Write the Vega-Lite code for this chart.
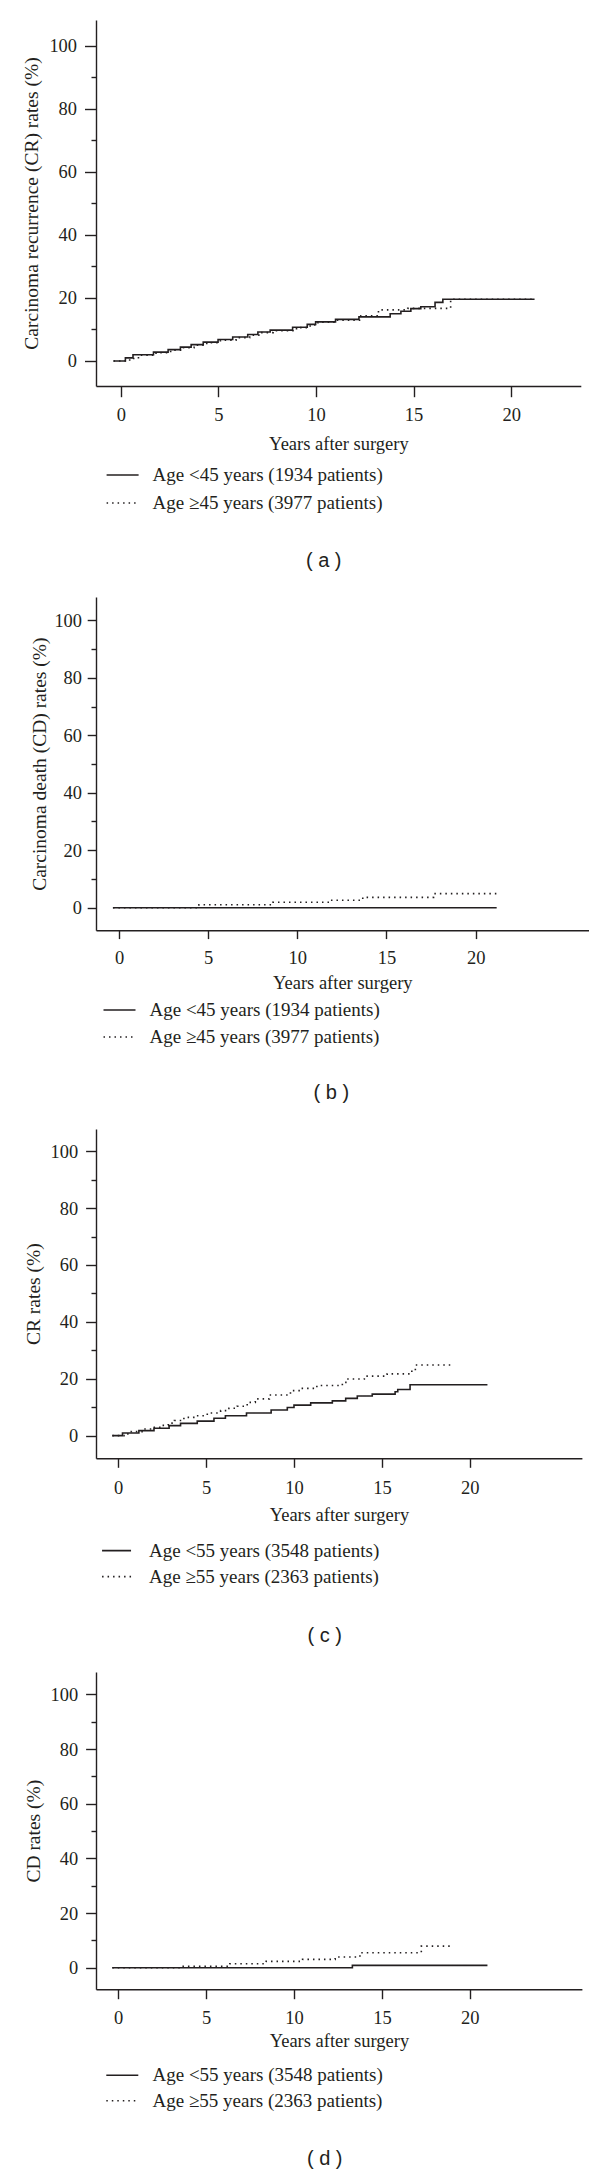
{
  "$schema": "https://vega.github.io/schema/vega-lite/v6.json",
  "padding": {"left": 21, "top": 20, "right": 0, "bottom": 0},
  "background": "white",
  "config": {
    "view": {"stroke": null},
    "font": "Liberation Serif",
    "style": {"guide-title": {"fontWeight": "normal"}, "guide-label": {"fontWeight": "normal"}},
    "axis": {"domainColor": "#231f20", "domainWidth": 1.4, "tickColor": "#231f20", "tickWidth": 1.4, "labelColor": "#231f20", "titleColor": "#231f20", "labelFont": "Liberation Serif", "titleFont": "Liberation Serif", "labelFontSize": 18.5, "titleFontSize": 18.5, "titleFontWeight": "normal", "labelFontWeight": "normal", "grid": false, "labelFlush": false, "labelOverlap": false},
    "legend": {"orient": "none", "title": null, "direction": "vertical", "symbolType": "M-2,0H2", "symbolSize": 256, "symbolStrokeWidth": 1.6, "symbolStrokeColor": "#231f20", "symbolFillColor": "transparent", "labelFont": "Liberation Serif", "labelFontSize": 19, "labelColor": "#231f20", "padding": 0, "labelLimit": 500},
    "title": {"font": "Liberation Sans", "fontSize": 20, "fontWeight": "normal", "color": "#231f20"}
  },
  "datasets": {
    "a": [
      {"t": -0.38, "r": 0, "g": "Age <45 years (1934 patients)"},
      {"t": 0.23, "r": 1.0, "g": "Age <45 years (1934 patients)"},
      {"t": 0.62, "r": 2.0, "g": "Age <45 years (1934 patients)"},
      {"t": 1.67, "r": 2.8, "g": "Age <45 years (1934 patients)"},
      {"t": 2.42, "r": 3.6, "g": "Age <45 years (1934 patients)"},
      {"t": 3.05, "r": 4.4, "g": "Age <45 years (1934 patients)"},
      {"t": 3.6, "r": 5.2, "g": "Age <45 years (1934 patients)"},
      {"t": 4.22, "r": 6.0, "g": "Age <45 years (1934 patients)"},
      {"t": 4.98, "r": 6.8, "g": "Age <45 years (1934 patients)"},
      {"t": 5.73, "r": 7.6, "g": "Age <45 years (1934 patients)"},
      {"t": 6.5, "r": 8.4, "g": "Age <45 years (1934 patients)"},
      {"t": 7.02, "r": 9.2, "g": "Age <45 years (1934 patients)"},
      {"t": 7.65, "r": 9.8, "g": "Age <45 years (1934 patients)"},
      {"t": 8.8, "r": 10.7, "g": "Age <45 years (1934 patients)"},
      {"t": 9.55, "r": 11.6, "g": "Age <45 years (1934 patients)"},
      {"t": 9.98, "r": 12.4, "g": "Age <45 years (1934 patients)"},
      {"t": 11.0, "r": 13.2, "g": "Age <45 years (1934 patients)"},
      {"t": 12.2, "r": 14.0, "g": "Age <45 years (1934 patients)"},
      {"t": 13.8, "r": 15.0, "g": "Age <45 years (1934 patients)"},
      {"t": 14.35, "r": 15.8, "g": "Age <45 years (1934 patients)"},
      {"t": 14.86, "r": 16.6, "g": "Age <45 years (1934 patients)"},
      {"t": 15.37, "r": 17.2, "g": "Age <45 years (1934 patients)"},
      {"t": 16.1, "r": 18.6, "g": "Age <45 years (1934 patients)"},
      {"t": 16.5, "r": 19.6, "g": "Age <45 years (1934 patients)"},
      {"t": 21.2, "r": 19.6, "g": "Age <45 years (1934 patients)"},
      {"t": -0.38, "r": 0, "g": "Age ≥45 years (3977 patients)"},
      {"t": 0.45, "r": 0.8, "g": "Age ≥45 years (3977 patients)"},
      {"t": 0.9, "r": 1.8, "g": "Age ≥45 years (3977 patients)"},
      {"t": 1.8, "r": 2.6, "g": "Age ≥45 years (3977 patients)"},
      {"t": 2.55, "r": 3.4, "g": "Age ≥45 years (3977 patients)"},
      {"t": 3.2, "r": 4.2, "g": "Age ≥45 years (3977 patients)"},
      {"t": 3.75, "r": 5.0, "g": "Age ≥45 years (3977 patients)"},
      {"t": 4.4, "r": 5.8, "g": "Age ≥45 years (3977 patients)"},
      {"t": 5.1, "r": 6.6, "g": "Age ≥45 years (3977 patients)"},
      {"t": 5.9, "r": 7.4, "g": "Age ≥45 years (3977 patients)"},
      {"t": 6.6, "r": 8.2, "g": "Age ≥45 years (3977 patients)"},
      {"t": 7.15, "r": 9.0, "g": "Age ≥45 years (3977 patients)"},
      {"t": 7.8, "r": 9.6, "g": "Age ≥45 years (3977 patients)"},
      {"t": 9.0, "r": 10.6, "g": "Age ≥45 years (3977 patients)"},
      {"t": 9.7, "r": 11.4, "g": "Age ≥45 years (3977 patients)"},
      {"t": 10.1, "r": 12.3, "g": "Age ≥45 years (3977 patients)"},
      {"t": 11.0, "r": 12.9, "g": "Age ≥45 years (3977 patients)"},
      {"t": 12.3, "r": 14.3, "g": "Age ≥45 years (3977 patients)"},
      {"t": 13.2, "r": 16.2, "g": "Age ≥45 years (3977 patients)"},
      {"t": 14.7, "r": 16.7, "g": "Age ≥45 years (3977 patients)"},
      {"t": 16.9, "r": 19.6, "g": "Age ≥45 years (3977 patients)"},
      {"t": 21.2, "r": 19.6, "g": "Age ≥45 years (3977 patients)"}
    ],
    "b": [
      {"t": -0.34, "r": 0, "g": "Age <45 years (1934 patients)"},
      {"t": 21.18, "r": 0, "g": "Age <45 years (1934 patients)"},
      {"t": -0.34, "r": 0, "g": "Age ≥45 years (3977 patients)"},
      {"t": 4.48, "r": 1.0, "g": "Age ≥45 years (3977 patients)"},
      {"t": 8.63, "r": 1.9, "g": "Age ≥45 years (3977 patients)"},
      {"t": 11.8, "r": 2.6, "g": "Age ≥45 years (3977 patients)"},
      {"t": 13.67, "r": 3.6, "g": "Age ≥45 years (3977 patients)"},
      {"t": 17.64, "r": 4.9, "g": "Age ≥45 years (3977 patients)"},
      {"t": 21.18, "r": 4.9, "g": "Age ≥45 years (3977 patients)"}
    ],
    "c": [
      {"t": -0.33, "r": 0, "g": "Age <55 years (3548 patients)"},
      {"t": 0.25, "r": 0.9, "g": "Age <55 years (3548 patients)"},
      {"t": 1.18, "r": 1.75, "g": "Age <55 years (3548 patients)"},
      {"t": 2.04, "r": 2.6, "g": "Age <55 years (3548 patients)"},
      {"t": 2.9, "r": 3.5, "g": "Age <55 years (3548 patients)"},
      {"t": 3.55, "r": 4.3, "g": "Age <55 years (3548 patients)"},
      {"t": 4.5, "r": 5.1, "g": "Age <55 years (3548 patients)"},
      {"t": 5.45, "r": 6.1, "g": "Age <55 years (3548 patients)"},
      {"t": 6.1, "r": 7.0, "g": "Age <55 years (3548 patients)"},
      {"t": 7.3, "r": 7.95, "g": "Age <55 years (3548 patients)"},
      {"t": 8.7, "r": 9.0, "g": "Age <55 years (3548 patients)"},
      {"t": 9.62, "r": 9.9, "g": "Age <55 years (3548 patients)"},
      {"t": 10.0, "r": 10.7, "g": "Age <55 years (3548 patients)"},
      {"t": 10.95, "r": 11.5, "g": "Age <55 years (3548 patients)"},
      {"t": 12.18, "r": 12.2, "g": "Age <55 years (3548 patients)"},
      {"t": 12.94, "r": 13.1, "g": "Age <55 years (3548 patients)"},
      {"t": 13.6, "r": 13.9, "g": "Age <55 years (3548 patients)"},
      {"t": 14.45, "r": 14.6, "g": "Age <55 years (3548 patients)"},
      {"t": 15.75, "r": 15.4, "g": "Age <55 years (3548 patients)"},
      {"t": 15.9, "r": 16.2, "g": "Age <55 years (3548 patients)"},
      {"t": 16.6, "r": 17.9, "g": "Age <55 years (3548 patients)"},
      {"t": 21.0, "r": 17.9, "g": "Age <55 years (3548 patients)"},
      {"t": -0.33, "r": 0, "g": "Age ≥55 years (2363 patients)"},
      {"t": 0.45, "r": 0.6, "g": "Age ≥55 years (2363 patients)"},
      {"t": 0.75, "r": 1.4, "g": "Age ≥55 years (2363 patients)"},
      {"t": 1.45, "r": 2.3, "g": "Age ≥55 years (2363 patients)"},
      {"t": 1.95, "r": 2.9, "g": "Age ≥55 years (2363 patients)"},
      {"t": 2.5, "r": 3.6, "g": "Age ≥55 years (2363 patients)"},
      {"t": 2.85, "r": 4.4, "g": "Age ≥55 years (2363 patients)"},
      {"t": 3.2, "r": 5.3, "g": "Age ≥55 years (2363 patients)"},
      {"t": 3.74, "r": 6.4, "g": "Age ≥55 years (2363 patients)"},
      {"t": 4.3, "r": 7.0, "g": "Age ≥55 years (2363 patients)"},
      {"t": 5.07, "r": 7.95, "g": "Age ≥55 years (2363 patients)"},
      {"t": 5.83, "r": 8.8, "g": "Age ≥55 years (2363 patients)"},
      {"t": 6.3, "r": 9.6, "g": "Age ≥55 years (2363 patients)"},
      {"t": 6.77, "r": 10.3, "g": "Age ≥55 years (2363 patients)"},
      {"t": 7.34, "r": 11.7, "g": "Age ≥55 years (2363 patients)"},
      {"t": 7.8, "r": 12.9, "g": "Age ≥55 years (2363 patients)"},
      {"t": 8.6, "r": 14.3, "g": "Age ≥55 years (2363 patients)"},
      {"t": 9.8, "r": 15.8, "g": "Age ≥55 years (2363 patients)"},
      {"t": 10.4, "r": 16.6, "g": "Age ≥55 years (2363 patients)"},
      {"t": 11.3, "r": 17.6, "g": "Age ≥55 years (2363 patients)"},
      {"t": 12.75, "r": 18.7, "g": "Age ≥55 years (2363 patients)"},
      {"t": 13.0, "r": 19.9, "g": "Age ≥55 years (2363 patients)"},
      {"t": 14.0, "r": 20.9, "g": "Age ≥55 years (2363 patients)"},
      {"t": 15.3, "r": 21.7, "g": "Age ≥55 years (2363 patients)"},
      {"t": 16.7, "r": 22.9, "g": "Age ≥55 years (2363 patients)"},
      {"t": 16.9, "r": 24.8, "g": "Age ≥55 years (2363 patients)"},
      {"t": 19.1, "r": 24.8, "g": "Age ≥55 years (2363 patients)"}
    ],
    "d": [
      {"t": -0.33, "r": 0, "g": "Age <55 years (3548 patients)"},
      {"t": 13.32, "r": 0.85, "g": "Age <55 years (3548 patients)"},
      {"t": 21.0, "r": 0.85, "g": "Age <55 years (3548 patients)"},
      {"t": -0.33, "r": 0, "g": "Age ≥55 years (2363 patients)"},
      {"t": 3.63, "r": 0.5, "g": "Age ≥55 years (2363 patients)"},
      {"t": 6.35, "r": 1.46, "g": "Age ≥55 years (2363 patients)"},
      {"t": 8.42, "r": 2.3, "g": "Age ≥55 years (2363 patients)"},
      {"t": 10.49, "r": 3.05, "g": "Age ≥55 years (2363 patients)"},
      {"t": 12.34, "r": 3.9, "g": "Age ≥55 years (2363 patients)"},
      {"t": 13.75, "r": 5.5, "g": "Age ≥55 years (2363 patients)"},
      {"t": 17.24, "r": 7.9, "g": "Age ≥55 years (2363 patients)"},
      {"t": 18.98, "r": 7.9, "g": "Age ≥55 years (2363 patients)"}
    ]
  },
  "spacing": 26,
  "vconcat": [
    {
      "width": 484.8, "height": 366,
      "data": {"name": "a"},
      "title": {"text": "( a )", "orient": "bottom", "anchor": "middle", "frame": "group", "dx": -14.7, "offset": 47.5, "baseline": "middle"},
      "layer": [
        {
          "mark": {"type": "line", "interpolate": "step-after", "color": "#231f20", "strokeWidth": 1.6},
          "encoding": {
            "x": {"field": "t", "type": "quantitative", "scale": {"domain": [-1.276, 23.57], "nice": false, "zero": false}, "axis": {"values": [0, 5, 10, 15, 20], "tickSize": 10.7, "labelPadding": 9.1, "title": "Years after surgery", "titleFontWeight": "normal", "titlePadding": 10.5}},
            "y": {"field": "r", "type": "quantitative", "scale": {"domain": [-7.93, 108.15], "nice": false, "zero": false}, "axis": {"values": [0, 20, 40, 60, 80, 100], "tickSize": 11.5, "labelPadding": 8, "labelFontSize": 18.4, "title": "Carcinoma recurrence (CR) rates (%)", "titleFontWeight": "normal", "titleFontSize": 19.5, "titlePadding": 7}},
            "strokeDash": {"field": "g", "type": "nominal", "scale": {"domain": ["Age <45 years (1934 patients)", "Age ≥45 years (3977 patients)"], "range": [[1, 0], [1.5, 4]]}, "legend": {"legendX": 17.1, "legendY": 445.5, "labelOffset": 20.5, "rowPadding": 8}}
          }
        },
        {
          "mark": {"type": "point", "opacity": 0},
          "encoding": {
            "y": {"field": "r", "type": "quantitative", "scale": {"domain": [-7.93, 108.15], "nice": false, "zero": false}, "axis": {"orient": "left", "values": [10, 30, 50, 70, 90], "tickSize": 5, "labels": false, "domain": false, "title": null}}
          }
        }
      ],
      "resolve": {"axis": {"y": "independent"}}
    },
    {
      "width": 492.5, "height": 333.3,
      "data": {"name": "b"},
      "title": {"text": "( b )", "orient": "bottom", "anchor": "middle", "frame": "group", "dx": -10.9, "offset": 45.2, "baseline": "middle"},
      "layer": [
        {
          "mark": {"type": "line", "interpolate": "step-after", "color": "#231f20", "strokeWidth": 1.6},
          "encoding": {
            "x": {"field": "t", "type": "quantitative", "scale": {"domain": [-1.29, 26.33], "nice": false, "zero": false}, "axis": {"values": [0, 5, 10, 15, 20], "tickSize": 8.3, "labelPadding": 9.9, "title": "Years after surgery", "titleFontWeight": "normal", "titlePadding": 6.5}},
            "y": {"field": "r", "type": "quantitative", "scale": {"domain": [-7.87, 108.1], "nice": false, "zero": false}, "axis": {"values": [0, 20, 40, 60, 80, 100], "tickSize": 8.8, "labelPadding": 5.7, "labelFontSize": 18.4, "title": "Carcinoma death (CD) rates (%)", "titleFontWeight": "normal", "titleFontSize": 19.5, "titlePadding": 4.3}},
            "strokeDash": {"field": "g", "type": "nominal", "scale": {"domain": ["Age <45 years (1934 patients)", "Age ≥45 years (3977 patients)"], "range": [[1, 0], [1.5, 4]]}, "legend": {"legendX": 14, "legendY": 403.5, "labelOffset": 20.5, "rowPadding": 7}}
          }
        },
        {
          "mark": {"type": "point", "opacity": 0},
          "encoding": {
            "y": {"field": "r", "type": "quantitative", "scale": {"domain": [-7.87, 108.1], "nice": false, "zero": false}, "axis": {"orient": "left", "values": [10, 30, 50, 70, 90], "tickSize": 5, "labels": false, "domain": false, "title": null}}
          }
        }
      ],
      "resolve": {"axis": {"y": "independent"}}
    },
    {
      "width": 485.9, "height": 329.3,
      "data": {"name": "c"},
      "title": {"text": "( c )", "orient": "bottom", "anchor": "middle", "frame": "group", "dx": -14.2, "offset": 48.9, "baseline": "middle"},
      "layer": [
        {
          "mark": {"type": "line", "interpolate": "step-after", "color": "#231f20", "strokeWidth": 1.6},
          "encoding": {
            "x": {"field": "t", "type": "quantitative", "scale": {"domain": [-1.257, 26.37], "nice": false, "zero": false}, "axis": {"values": [0, 5, 10, 15, 20], "tickSize": 9, "labelPadding": 11.5, "title": "Years after surgery", "titleFontWeight": "normal", "titlePadding": 8.2}},
            "y": {"field": "r", "type": "quantitative", "scale": {"domain": [-7.98, 107.8], "nice": false, "zero": false}, "axis": {"values": [0, 20, 40, 60, 80, 100], "tickSize": 10.4, "labelPadding": 8, "labelFontSize": 18.4, "title": "CR rates (%)", "titleFontWeight": "normal", "titleFontSize": 19.5, "titlePadding": 7}},
            "strokeDash": {"field": "g", "type": "nominal", "scale": {"domain": ["Age <55 years (3548 patients)", "Age ≥55 years (2363 patients)"], "range": [[1, 0], [1.5, 4]]}, "legend": {"legendX": 11.05, "legendY": 412.1, "labelOffset": 22.95, "rowPadding": 6, "symbolSize": 210}}
          }
        },
        {
          "mark": {"type": "point", "opacity": 0},
          "encoding": {
            "y": {"field": "r", "type": "quantitative", "scale": {"domain": [-7.98, 107.8], "nice": false, "zero": false}, "axis": {"orient": "left", "values": [10, 30, 50, 70, 90], "tickSize": 5, "labels": false, "domain": false, "title": null}}
          }
        }
      ],
      "resolve": {"axis": {"y": "independent"}}
    },
    {
      "width": 485.9, "height": 317.3,
      "data": {"name": "d"},
      "title": {"text": "( d )", "orient": "bottom", "anchor": "middle", "frame": "group", "dx": -14.2, "offset": 47.8, "baseline": "middle"},
      "layer": [
        {
          "mark": {"type": "line", "interpolate": "step-after", "color": "#231f20", "strokeWidth": 1.6},
          "encoding": {
            "x": {"field": "t", "type": "quantitative", "scale": {"domain": [-1.257, 26.37], "nice": false, "zero": false}, "axis": {"values": [0, 5, 10, 15, 20], "tickSize": 9.4, "labelPadding": 9.8, "title": "Years after surgery", "titleFontWeight": "normal", "titlePadding": 4.8}},
            "y": {"field": "r", "type": "quantitative", "scale": {"domain": [-7.9, 108.2], "nice": false, "zero": false}, "axis": {"values": [0, 20, 40, 60, 80, 100], "tickSize": 10.4, "labelPadding": 8, "labelFontSize": 18.4, "title": "CD rates (%)", "titleFontWeight": "normal", "titleFontSize": 19.5, "titlePadding": 7}},
            "strokeDash": {"field": "g", "type": "nominal", "scale": {"domain": ["Age <55 years (3548 patients)", "Age ≥55 years (2363 patients)"], "range": [[1, 0], [1.5, 4]]}, "legend": {"legendX": 16.8, "legendY": 393.8, "labelOffset": 20.7, "rowPadding": 5.4}}
          }
        },
        {
          "mark": {"type": "point", "opacity": 0},
          "encoding": {
            "y": {"field": "r", "type": "quantitative", "scale": {"domain": [-7.9, 108.2], "nice": false, "zero": false}, "axis": {"orient": "left", "values": [10, 30, 50, 70, 90], "tickSize": 5, "labels": false, "domain": false, "title": null}}
          }
        }
      ],
      "resolve": {"axis": {"y": "independent"}}
    }
  ],
  "resolve": {"scale": {"x": "independent", "y": "independent", "strokeDash": "independent"}, "legend": {"strokeDash": "independent"}}
}
